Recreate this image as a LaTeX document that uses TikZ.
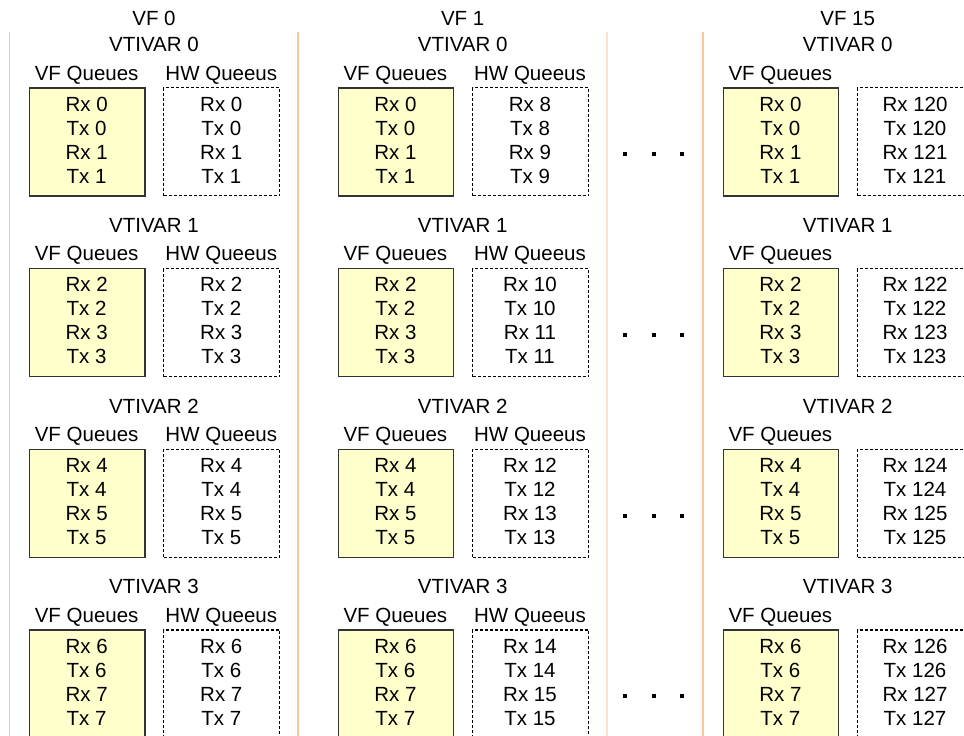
\documentclass[tikz,border=0pt]{standalone}
\usepackage{fontspec}
\setmainfont{Liberation Sans}
\definecolor{vfyellow}{HTML}{FFFFCC}
\definecolor{sepcol}{HTML}{FBC79A}
\definecolor{sepcollight}{HTML}{FDE2CA}
\tikzset{
  lbl/.style={anchor=base, inner sep=0pt, font=\fontsize{20.5}{24}\selectfont},
  vfbox/.style={draw=black!80, line width=1.2pt, fill=vfyellow, minimum width=115.3pt, minimum height=108pt, inner sep=0pt, anchor=north west},
  hwbox/.style={draw=black, line width=1.1pt, dash pattern=on 3pt off 2pt, fill=white, minimum width=116pt, minimum height=108pt, inner sep=0pt, anchor=north west},
  sepline/.style={draw=sepcol, line width=1.3pt},
  seplight/.style={draw=sepcollight, line width=2pt},
  dotmark/.style={fill=black, draw=none, minimum size=4pt, inner sep=0pt, rectangle}
}
\begin{document}
\begin{tikzpicture}[x=1pt,y=-1pt]
\clip (0,0) rectangle (964,736);
\fill[white] (0,0) rectangle (964,736);
% separators
\coordinate (s0t) at (9.5,32);   \coordinate (s0b) at (9.5,736);
\coordinate (s1t) at (298,32);   \coordinate (s1b) at (298,736);
\coordinate (s2t) at (607,32);   \coordinate (s2b) at (607,736);
\coordinate (s3t) at (703,32);   \coordinate (s3b) at (703,736);
\draw[sepline] (s0t) -- (s0b);
\draw[sepline] (s1t) -- (s1b);
\draw[seplight] (s2t) -- (s2b);
\draw[sepline] (s3t) -- (s3b);
% columns
\foreach \c/\x/\vf/\hwbase in {0/29/0/0, 1/337.7/1/8, 2/722.7/15/120} {
  \node[lbl] (vf\c) at ({\x+125},25) {VF \vf};
  \foreach \b in {0,1,2,3} {
    \pgfmathsetmacro{\dy}{180.7*\b}
    \pgfmathtruncatemacro{\qa}{2*\b}
    \pgfmathtruncatemacro{\qb}{2*\b+1}
    \pgfmathtruncatemacro{\ha}{\hwbase+2*\b}
    \pgfmathtruncatemacro{\hb}{\hwbase+2*\b+1}
    \node[lbl] (vt\c\b) at ({\x+125},{51.7+\dy}) {VTIVAR \b};
    \node[lbl] (vq\c\b) at ({\x+57.65},{80+\dy}) {VF Queues};
    \ifnum\c<2
      \node[lbl] (hq\c\b) at ({\x+192.3},{80+\dy}) {HW Queeus};
    \fi
    \node[vfbox] (vb\c\b) at (\x,{87.3+\dy}) {};
    \node[hwbox] (hb\c\b) at ({\x+134.3},{87.3+\dy}) {};
    \node[lbl] (vr1\c\b) at ({\x+57.65},{111+\dy}) {Rx \qa};
    \node[lbl] (vt1\c\b) at ({\x+57.65},{135+\dy}) {Tx \qa};
    \node[lbl] (vr2\c\b) at ({\x+57.65},{159+\dy}) {Rx \qb};
    \node[lbl] (vt2\c\b) at ({\x+57.65},{183+\dy}) {Tx \qb};
    \node[lbl] (hr1\c\b) at ({\x+192.3},{111+\dy}) {Rx \ha};
    \node[lbl] (ht1\c\b) at ({\x+192.3},{135+\dy}) {Tx \ha};
    \node[lbl] (hr2\c\b) at ({\x+192.3},{159+\dy}) {Rx \hb};
    \node[lbl] (ht2\c\b) at ({\x+192.3},{183+\dy}) {Tx \hb};
  }
}
% ellipsis dots
\foreach \b in {0,1,2,3} {
  \pgfmathsetmacro{\dy}{180.7*\b}
  \node[dotmark] (da\b) at (625,{154.3+\dy}) {};
  \node[dotmark] (db\b) at (653.5,{154.3+\dy}) {};
  \node[dotmark] (dc\b) at (682,{154.3+\dy}) {};
}
\end{tikzpicture}
\end{document}
